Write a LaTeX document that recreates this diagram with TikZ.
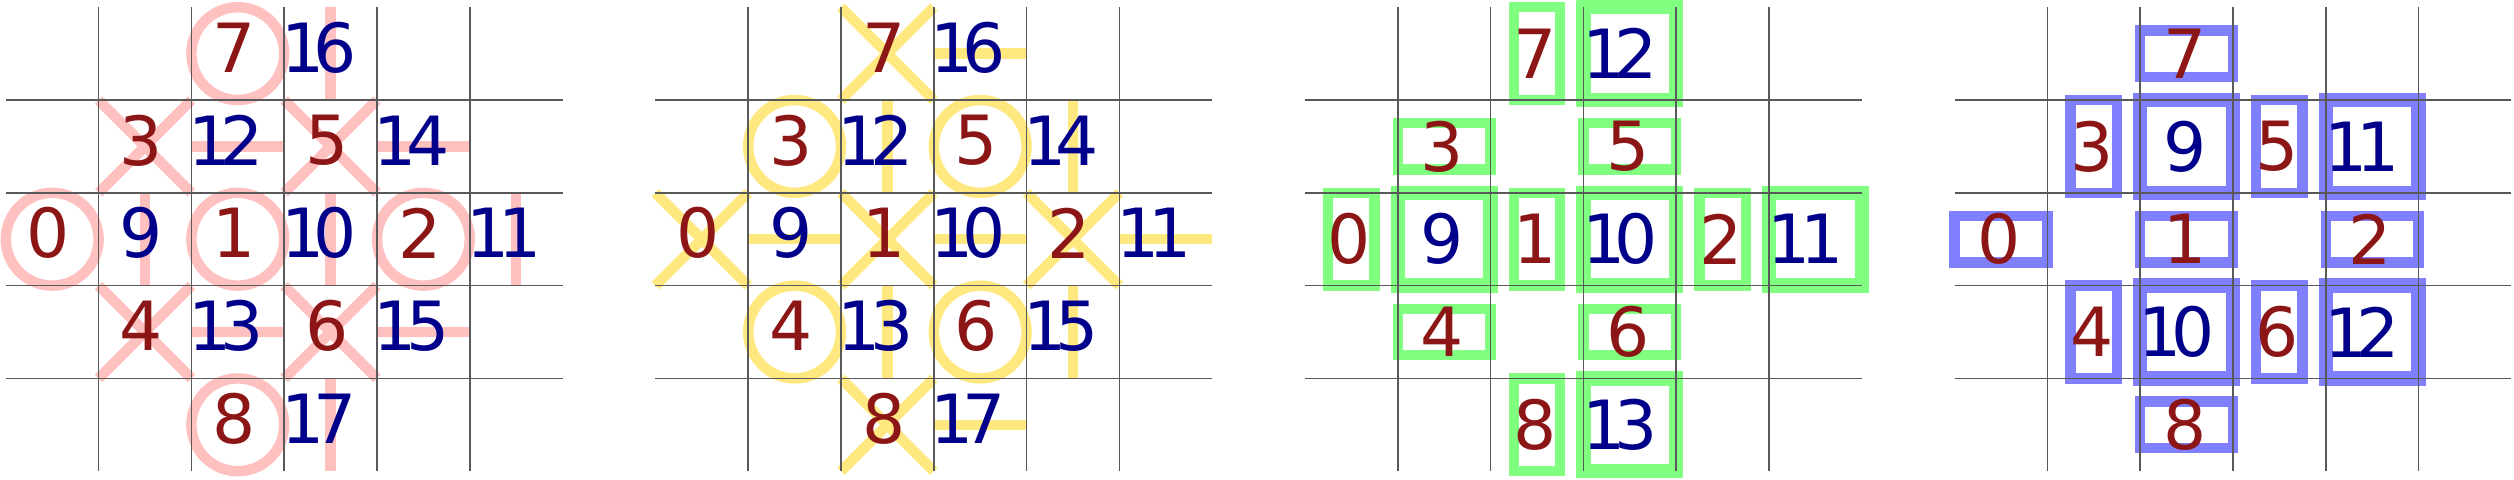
\documentclass[tikz,border=0pt]{standalone}
\usepackage{fontspec}
\newfontfamily\numfont{DejaVu Sans}
\usepackage{xcolor}

\definecolor{digred}{RGB}{140,22,22}
\definecolor{digblue}{RGB}{0,0,139}
\definecolor{pinkmk}{RGB}{255,192,192}
\definecolor{yellowmk}{RGB}{255,232,128}
\definecolor{greenmk}{RGB}{128,255,128}
\definecolor{bluemk}{RGB}{128,128,255}

% two-digit labels: digits sit tight, a bit to the left
\newcommand\dd[2]{\kern-.12em#1\kern-.16em#2\kern.12em}

\begin{document}
\begin{tikzpicture}[
    rd/.style = {inner sep=0pt, text=digred, font=\fontsize{20.8}{24}\numfont},
    bl/.style = {rd, text=digblue},
    mk/.style = {line width=3.2pt},
    cellbox/.style = {line width=4.4pt},
    gridln/.style = {black!65, line width=0.45pt}
  ]

\useasboundingbox (-0.0625,-0.084) rectangle (27.028,5.078);

% panel a - pink
\begin{scope}[pinkmk]
  \foreach \c/\r in {2/0,0/2,2/2,4/2,2/4} \draw[mk] (\c+.5,4.5-\r) circle (0.5);
  \foreach \c/\r in {1/1,3/1,1/3,3/3} \draw[mk] (\c,5-\r) -- ++(1,-1) (\c,4-\r) -- ++(1,1);
  \foreach \c/\r in {3/0,1/2,3/2,5/2,3/4} \draw[mk] (\c+.5,5-\r) -- ++(0,-1);
  \foreach \c/\r in {2/1,4/1,2/3,4/3} \draw[mk] (\c,4.5-\r) -- ++(1,0);
\end{scope}

% panel b - yellow
\begin{scope}[xshift=7cm, yellowmk]
  \foreach \c/\r in {2/0,0/2,2/2,4/2,2/4} \draw[mk] (\c,5-\r) -- ++(1,-1) (\c,4-\r) -- ++(1,1);
  \foreach \c/\r in {1/1,3/1,1/3,3/3} \draw[mk] (\c+.5,4.5-\r) circle (0.5);
  \foreach \c/\r in {3/0,1/2,3/2,5/2,3/4} \draw[mk] (\c,4.5-\r) -- ++(1,0);
  \foreach \c/\r in {2/1,4/1,2/3,4/3} \draw[mk] (\c+.5,5-\r) -- ++(0,-1);
\end{scope}

% panel c - green
\begin{scope}[xshift=14cm, greenmk]
  \foreach \c/\r in {2/0,0/2,2/2,4/2,2/4} \draw[mk] (\c+.25,5-\r) rectangle ++(.5,-1);
  \foreach \c/\r in {1/1,3/1,1/3,3/3} \draw[mk] (\c,4.75-\r) rectangle ++(1,-.5);
  \foreach \c/\r in {3/0,1/2,3/2,5/2,3/4} \draw[cellbox] (\c,5-\r) rectangle ++(1,-1);
\end{scope}

% panel d - blue
\begin{scope}[xshift=21cm, bluemk]
  \foreach \c/\r in {2/0,0/2,2/2,4/2,2/4} \draw[mk] (\c,4.75-\r) rectangle ++(1,-.5);
  \foreach \c/\r in {1/1,3/1,1/3,3/3} \draw[mk] (\c+.25,5-\r) rectangle ++(.5,-1);
  \foreach \c/\r in {2/1,4/1,2/3,4/3} \draw[cellbox] (\c,5-\r) rectangle ++(1,-1);
\end{scope}

%--- grids and the red digits, same in every panel
\foreach \p/\sx/\dx/\dy in {a/0/-.04/.065, b/7/-.04/.065, c/14/-.02/0, d/21/-.02/0} {
  \begin{scope}[xshift=\sx cm]
    \foreach \i in {1,...,5} \draw[gridln] (\i,0) -- (\i,5);
    \foreach \j in {1,...,4} \draw[gridln] (0,\j) -- (6,\j);
    \foreach \n/\c/\r in {7/2/0,3/1/1,5/3/1,0/0/2,1/2/2,2/4/2,4/1/3,6/3/3,8/2/4}
      \node[rd] (\p\n) at (\c+.5+\dx,4.5+\dy-\r) {\n};
  \end{scope}
}

%--- blue labels
\foreach \sx/\p in {0/a, 7/b} {
  \begin{scope}[xshift=\sx cm]
    \foreach \t/\c/\r in {\dd16/3/0, \dd12/2/1, \dd14/4/1, 9/1/2, \dd10/3/2, \dd11/5/2, \dd13/2/3, \dd15/4/3, \dd17/3/4}
      \node[bl] (\p-\c\r) at (\c+.46,4.565-\r) {\t};
  \end{scope}
}
\begin{scope}[xshift=14cm]
  \foreach \t/\c/\r in {\dd12/3/0, 9/1/2, \dd10/3/2, \dd11/5/2, \dd13/3/4}
    \node[bl] (c-\c\r) at (\c+.48,4.5-\r) {\t};
\end{scope}
\begin{scope}[xshift=21cm]
  \foreach \t/\c/\r in {9/2/1, \dd11/4/1, \dd10/2/3, \dd12/4/3}
    \node[bl] (d-\c\r) at (\c+.48,4.5-\r) {\t};
\end{scope}

\end{tikzpicture}
\end{document}
